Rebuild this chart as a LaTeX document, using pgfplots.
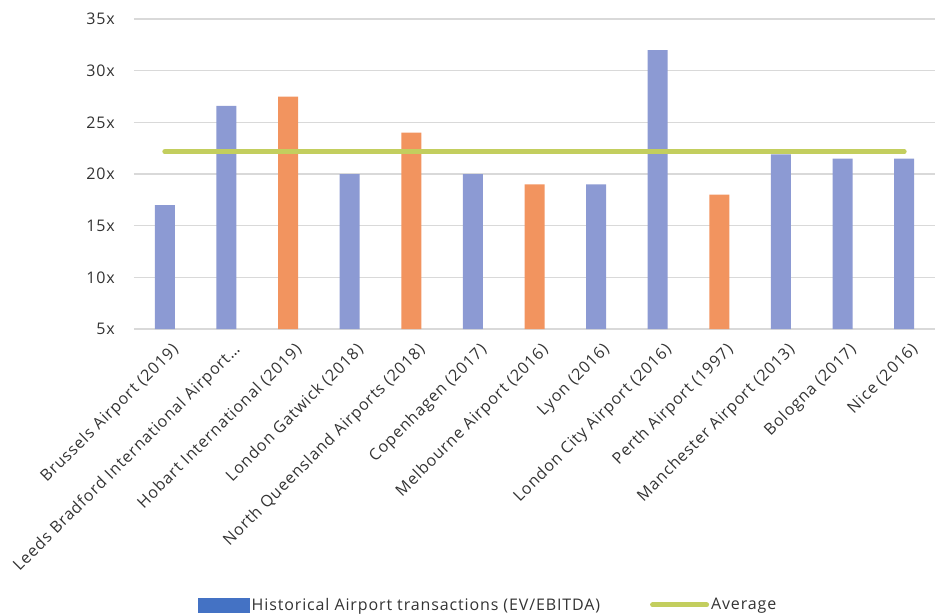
\documentclass[border=0pt]{standalone}
\usepackage{pgfplots}
\pgfplotsset{compat=1.18}
\usepackage{fontspec}
\setmainfont{Open Sans}[LetterSpace=5.5]
\definecolor{barblue}{HTML}{8C9AD3}
\definecolor{barorange}{HTML}{F2945F}
\definecolor{avggreen}{HTML}{C3CE5E}
\definecolor{legblue}{HTML}{4472C4}
\definecolor{gridgray}{HTML}{D9D9D9}
\definecolor{txt}{HTML}{333333}
\begin{document}
\begin{tikzpicture}
\useasboundingbox (-134bp,-285bp) rectangle (807bp,329bp);
\begin{axis}[
  at={(0,0)}, anchor=south west,
  scale only axis, width=801bp, height=310bp,
  xmin=-0.5, xmax=12.5, ymin=5, ymax=35,
  ytick={5,10,15,20,25,30,35},
  yticklabels={5x,10x,15x,20x,25x,30x,35x},
  xtick={0,1,2,3,4,5,6,7,8,9,10,11,12},
  xticklabels={{Brussels Airport (2019)},{Leeds Bradford International Airport\ldots},{Hobart International (2019)},{London Gatwick (2018)},{North Queensland Airports (2018)},{Copenhagen (2017)},{Melbourne Airport (2016)},{Lyon (2016)},{London City Airport (2016)},{Perth Airport (1997)},{Manchester Airport (2013)},{Bologna (2017)},{Nice (2016)}},
  major tick length=0pt,
  axis line style={draw=none},
  ymajorgrids, grid style={gridgray, line width=1.5bp},
  ticklabel style={font=\fontsize{16bp}{19bp}\selectfont, text=txt},
  yticklabel style={inner sep=0pt, xshift=-19bp},
  xticklabel style={rotate=45, anchor=north east, inner sep=0pt, yshift=-13bp, xshift=-5bp},
  legend columns=2,
  legend style={at={(0.08,-0.89)}, anchor=west, draw=none, fill=none,
    font=\fontsize{16bp}{19bp}\selectfont, text=txt, inner sep=0pt,
    /tikz/every even column/.append style={column sep=48bp},
    nodes={inner sep=2bp}},
]
\addlegendimage{legend image code/.code={\fill[legblue] (0bp,-7bp) rectangle (51bp,7bp);}}
\addlegendentry{Historical Airport transactions (EV/EBITDA)}
\addlegendimage{legend image code/.code={\draw[avggreen, line width=5bp, line cap=round] (3bp,0bp) -- (57bp,0bp);}}
\addlegendentry{Average}
\addplot[ybar, bar width=20bp, bar shift=0pt, fill=barblue, draw=none, forget plot]
  coordinates {(0,17) (1,26.6) (3,20) (5,20) (7,19) (8,32) (10,21.9) (11,21.5) (12,21.5)};
\addplot[ybar, bar width=20bp, bar shift=0pt, fill=barorange, draw=none, forget plot]
  coordinates {(2,27.5) (4,24) (6,19) (9,18)};
\addplot[avggreen, line width=5bp, line cap=round, forget plot]
  coordinates {(0,22.16) (12,22.16)};
\end{axis}
\end{tikzpicture}
\end{document}
